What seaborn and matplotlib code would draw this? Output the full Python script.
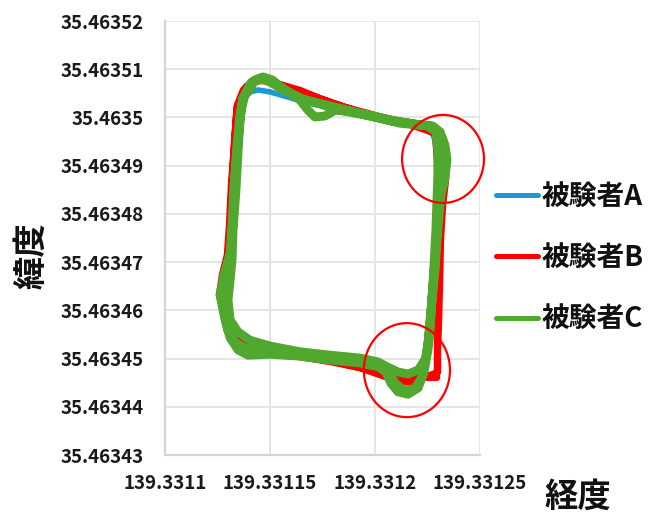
import matplotlib
matplotlib.use("Agg")
import matplotlib.pyplot as plt
from matplotlib.lines import Line2D
from matplotlib.patches import Ellipse
import pandas as pd
import seaborn as sns

# ---- GPS tracks (longitude / latitude), several laps per subject ----
subjects = ["被験者A", "被験者B", "被験者C"]

lon_a = [139.3311371, 139.3311405, 139.3311443, 139.3311500, 139.3311571, 139.3311667,
         139.3311786, 139.3311929, 139.3312071, 139.3312190, 139.3312262, 139.3312286,
         139.3312295, 139.3312300, 139.3312290, 139.3312276, 139.3312262, 139.3312238,
         139.3312190, 139.3312133, 139.3312071, 139.3312000, 139.3311881, 139.3311738,
         139.3311595, 139.3311452, 139.3311371, 139.3311329, 139.3311300, 139.3311290,
         139.3311305, 139.3311319, 139.3311329, 139.3311338, 139.3311352, 139.3311371]
lat_a = [35.4635036, 35.4635053, 35.4635057, 35.4635053, 35.4635044, 35.4635032,
         35.4635020, 35.4635007, 35.4634995, 35.4634984, 35.4634978, 35.4634953,
         35.4634901, 35.4634829, 35.4634725, 35.4634621, 35.4634538, 35.4634487,
         35.4634466, 35.4634464, 35.4634476, 35.4634489, 35.4634499, 35.4634507,
         35.4634516, 35.4634522, 35.4634528, 35.4634549, 35.4634590, 35.4634632,
         35.4634684, 35.4634746, 35.4634829, 35.4634912, 35.4634984, 35.4635036]

lon_b = [139.3311357, 139.3311386, 139.3311433, 139.3311490, 139.3311571, 139.3311667,
         139.3311786, 139.3311905, 139.3312024, 139.3312143, 139.3312238, 139.3312310,
         139.3312338, 139.3312338, 139.3312324, 139.3312314, 139.3312310, 139.3312305,
         139.3312300, 139.3312300, 139.3312262, 139.3312190, 139.3312119, 139.3312048,
         139.3311952, 139.3311833, 139.3311690, 139.3311571, 139.3311429, 139.3311357,
         139.3311314, 139.3311281, 139.3311257, 139.3311271, 139.3311295, 139.3311305,
         139.3311314, 139.3311329, 139.3311338,
         139.3311343, 139.3311371, 139.3311414, 139.3311476, 139.3311548, 139.3311643,
         139.3311738, 139.3311857, 139.3312000, 139.3312143, 139.3312252, 139.3312286,
         139.3312295, 139.3312295, 139.3312295, 139.3312295, 139.3312295, 139.3312295,
         139.3312238, 139.3312167, 139.3312110, 139.3312048, 139.3311929, 139.3311786,
         139.3311643, 139.3311500, 139.3311405, 139.3311343, 139.3311305, 139.3311271,
         139.3311276, 139.3311300, 139.3311310, 139.3311319, 139.3311329, 139.3311343]
lat_b = [35.4635036, 35.4635065, 35.4635078, 35.4635078, 35.4635065, 35.4635051,
         35.4635032, 35.4635015, 35.4635001, 35.4634988, 35.4634974, 35.4634962,
         35.4634932, 35.4634870, 35.4634818, 35.4634746, 35.4634663, 35.4634580,
         35.4634518, 35.4634472, 35.4634466, 35.4634460, 35.4634458, 35.4634466,
         35.4634478, 35.4634491, 35.4634501, 35.4634507, 35.4634518, 35.4634528,
         35.4634549, 35.4634590, 35.4634632, 35.4634673, 35.4634715, 35.4634777,
         35.4634860, 35.4634943, 35.4635005,
         35.4635026, 35.4635057, 35.4635074, 35.4635076, 35.4635069, 35.4635057,
         35.4635040, 35.4635022, 35.4635005, 35.4634990, 35.4634980, 35.4634968,
         35.4634912, 35.4634829, 35.4634725, 35.4634621, 35.4634538, 35.4634460,
         35.4634460, 35.4634451, 35.4634453, 35.4634462, 35.4634480, 35.4634493,
         35.4634503, 35.4634514, 35.4634522, 35.4634538, 35.4634570, 35.4634621,
         35.4634663, 35.4634715, 35.4634787, 35.4634870, 35.4634953, 35.4635026]

lon_c = [139.3311395, 139.3311429, 139.3311467, 139.3311510, 139.3311571, 139.3311643,
         139.3311738, 139.3311833, 139.3311929, 139.3312024, 139.3312119, 139.3312214,
         139.3312276, 139.3312310, 139.3312333, 139.3312343, 139.3312333, 139.3312314,
         139.3312305, 139.3312295, 139.3312286, 139.3312271, 139.3312262, 139.3312252,
         139.3312233, 139.3312205, 139.3312157, 139.3312110, 139.3312076, 139.3312052,
         139.3312000, 139.3311881, 139.3311738, 139.3311595, 139.3311476, 139.3311381,
         139.3311333, 139.3311300, 139.3311281, 139.3311271, 139.3311290, 139.3311314,
         139.3311324, 139.3311333, 139.3311348, 139.3311362,
         139.3311381, 139.3311414, 139.3311462, 139.3311524, 139.3311595, 139.3311643,
         139.3311681, 139.3311714, 139.3311762, 139.3311810, 139.3311881, 139.3311976,
         139.3312071, 139.3312167, 139.3312252, 139.3312290, 139.3312300, 139.3312300,
         139.3312295, 139.3312290, 139.3312281, 139.3312271, 139.3312257, 139.3312243,
         139.3312205, 139.3312157, 139.3312110, 139.3312062, 139.3312014, 139.3311929,
         139.3311786, 139.3311643, 139.3311500, 139.3311405, 139.3311348, 139.3311310,
         139.3311300, 139.3311310, 139.3311319, 139.3311324, 139.3311338, 139.3311348,
         139.3311357,
         139.3311371, 139.3311405, 139.3311452, 139.3311500, 139.3311571, 139.3311667,
         139.3311786, 139.3311929, 139.3312071, 139.3312190, 139.3312271, 139.3312319,
         139.3312329, 139.3312310, 139.3312300, 139.3312286, 139.3312267, 139.3312252,
         139.3312224, 139.3312186, 139.3312138, 139.3312100, 139.3312071, 139.3312024,
         139.3311929, 139.3311786, 139.3311643, 139.3311500, 139.3311395, 139.3311348,
         139.3311310, 139.3311286, 139.3311262, 139.3311281, 139.3311310, 139.3311319,
         139.3311329, 139.3311343, 139.3311357, 139.3311371]
lat_c = [35.4635053, 35.4635078, 35.4635084, 35.4635078, 35.4635057, 35.4635040,
         35.4635028, 35.4635015, 35.4635007, 35.4634999, 35.4634988, 35.4634984,
         35.4634982, 35.4634970, 35.4634943, 35.4634912, 35.4634874, 35.4634839,
         35.4634798, 35.4634746, 35.4634684, 35.4634621, 35.4634559, 35.4634518,
         35.4634472, 35.4634439, 35.4634426, 35.4634431, 35.4634449, 35.4634472,
         35.4634489, 35.4634497, 35.4634503, 35.4634512, 35.4634518, 35.4634522,
         35.4634534, 35.4634559, 35.4634601, 35.4634642, 35.4634684, 35.4634725,
         35.4634787, 35.4634870, 35.4634953, 35.4635015,
         35.4635047, 35.4635074, 35.4635082, 35.4635069, 35.4635051, 35.4635036,
         35.4635015, 35.4635001, 35.4635003, 35.4635015, 35.4635013, 35.4635003,
         35.4634993, 35.4634988, 35.4634982, 35.4634970, 35.4634932, 35.4634881,
         35.4634829, 35.4634767, 35.4634694, 35.4634621, 35.4634549, 35.4634501,
         35.4634476, 35.4634468, 35.4634472, 35.4634482, 35.4634493, 35.4634501,
         35.4634507, 35.4634514, 35.4634526, 35.4634538, 35.4634555, 35.4634580,
         35.4634621, 35.4634663, 35.4634704, 35.4634767, 35.4634850, 35.4634932,
         35.4634995,
         35.4635040, 35.4635069, 35.4635080, 35.4635074, 35.4635055, 35.4635036,
         35.4635024, 35.4635009, 35.4634995, 35.4634986, 35.4634982, 35.4634957,
         35.4634912, 35.4634850, 35.4634787, 35.4634704, 35.4634601, 35.4634528,
         35.4634460, 35.4634437, 35.4634435, 35.4634447, 35.4634466, 35.4634482,
         35.4634491, 35.4634497, 35.4634505, 35.4634509, 35.4634507, 35.4634518,
         35.4634543, 35.4634580, 35.4634632, 35.4634673, 35.4634715, 35.4634777,
         35.4634860, 35.4634943, 35.4635005, 35.4635040]

x_ticks = [139.3311, 139.33115, 139.3312, 139.33125]
x_tick_labels = ["139.3311", "139.33115", "139.3312", "139.33125"]
y_ticks = [35.46343, 35.46344, 35.46345, 35.46346, 35.46347,
           35.46348, 35.46349, 35.4635, 35.46351, 35.46352]
y_tick_labels = ["35.46343", "35.46344", "35.46345", "35.46346", "35.46347",
                 "35.46348", "35.46349", "35.4635", "35.46351", "35.46352"]

colors = {"被験者A": "#1b9ad6", "被験者B": "#ff0000", "被験者C": "#50a82f"}
widths = {"被験者A": 4.0, "被験者B": 4.6, "被験者C": 6.4}

tracks = pd.concat([
    pd.DataFrame({"経度": lon, "緯度": lat, "被験者": name, "step": range(len(lon))})
    for name, lon, lat in zip(subjects, [lon_a, lon_b, lon_c], [lat_a, lat_b, lat_c])
], ignore_index=True)

sns.set_style("white")
plt.rcParams["font.family"] = ["Noto Sans CJK JP", "DejaVu Sans"]

fig = plt.figure(figsize=(6.64, 5.15), dpi=100)
ax = fig.add_axes([0.2485, 0.1165, 0.4744, 0.8427])

for name in subjects:
    sns.lineplot(data=tracks[tracks["被験者"] == name], x="経度", y="緯度",
                 sort=False, estimator=None, color=colors[name],
                 linewidth=widths[name], solid_joinstyle="round",
                 solid_capstyle="round", legend=False, ax=ax, zorder=3)

ax.set_xlim(x_ticks[0], x_ticks[-1])
ax.set_ylim(y_ticks[0], y_ticks[-1])
ax.set_xticks(x_ticks)
ax.set_xticklabels(x_tick_labels)
ax.set_yticks(y_ticks)
ax.set_yticklabels(y_tick_labels)
ax.grid(True, color="#e3e3e3", linewidth=1.3, zorder=0)
ax.set_axisbelow(True)
for side in ["top", "right"]:
    ax.spines[side].set_visible(False)
for side in ["left", "bottom"]:
    ax.spines[side].set_color("#d4d4d4")
    ax.spines[side].set_linewidth(1.6)
ax.tick_params(axis="both", length=0, labelsize=13.5, labelcolor="#1a1a1a")
ax.tick_params(axis="y", pad=15)
ax.tick_params(axis="x", pad=14)
for lbl in ax.get_xticklabels() + ax.get_yticklabels():
    lbl.set_fontweight("bold")
ax.set_xlabel("")
ax.set_ylabel("")

# highlighted corners
ax.add_patch(Ellipse((139.3312324, 35.4634914), 3.9e-5, 1.825e-5, fill=False,
                     edgecolor="#ff0000", linewidth=1.6, clip_on=False, zorder=5))
ax.add_patch(Ellipse((139.3312152, 35.4634476), 4.1e-5, 1.95e-5, fill=False,
                     edgecolor="#ff0000", linewidth=1.6, clip_on=False, zorder=5))

fig.text(32 / 664, 1 - 256 / 515, "緯度", rotation=90, ha="center", va="center",
         fontsize=24, fontweight="bold", color="#111111")
fig.text(578 / 664, 1 - 497 / 515, "経度", ha="center", va="center",
         fontsize=24, fontweight="bold", color="#111111")

handles = [Line2D([], [], color=colors[n], linewidth=3.6, solid_capstyle="round")
           for n in subjects]
leg = fig.legend(handles, subjects, loc="center left",
                 bbox_to_anchor=(496 / 664, 1 - 258 / 515), frameon=False,
                 fontsize=20, handlelength=1.5, handletextpad=0.15,
                 labelspacing=1.2, borderpad=0, borderaxespad=0)
for t in leg.get_texts():
    t.set_fontweight("bold")
    t.set_color("#111111")

fig.savefig("out.png", dpi=100)
